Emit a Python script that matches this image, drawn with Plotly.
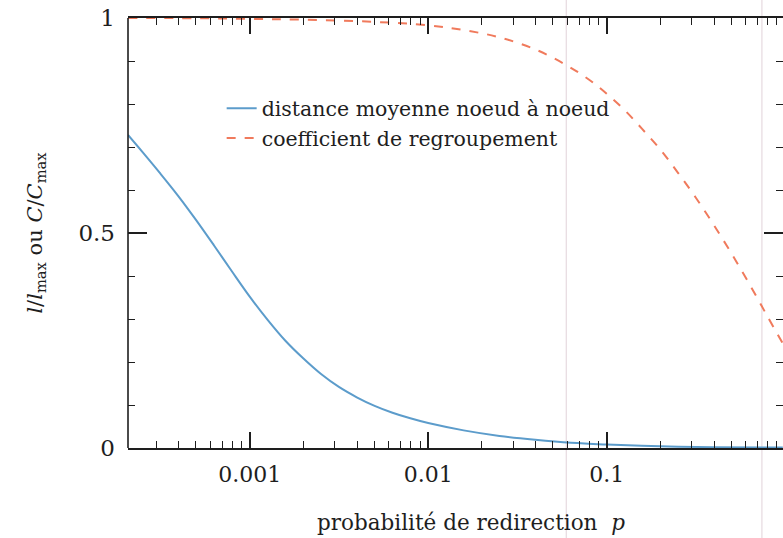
import plotly.graph_objects as go

# Data
p_dist = [0.000208, 0.000251, 0.000316, 0.000398, 0.000501, 0.000631, 0.000794, 0.001,
          0.00126, 0.00158, 0.002, 0.00251, 0.00316, 0.00398, 0.00501, 0.00631,
          0.00794, 0.01, 0.0158, 0.0251, 0.0398, 0.0631, 0.1, 0.2, 0.398, 0.97]
l_dist = [0.728, 0.688, 0.638, 0.586, 0.530, 0.471, 0.411, 0.352,
          0.298, 0.250, 0.208, 0.172, 0.142, 0.118, 0.098, 0.082,
          0.069, 0.058, 0.041, 0.028, 0.019, 0.012, 0.008, 0.004, 0.002, 0.001]

p_clust = [0.000208, 0.0005, 0.001, 0.002, 0.005, 0.01, 0.0158, 0.0251, 0.0398,
           0.0591, 0.0794, 0.1, 0.126, 0.158, 0.2, 0.251, 0.316, 0.398, 0.501,
           0.631, 0.794, 0.973]
c_clust = [1.0, 0.9995, 0.998, 0.996, 0.991, 0.983, 0.972, 0.955, 0.927,
           0.891, 0.857, 0.824, 0.786, 0.742, 0.694, 0.640, 0.582, 0.519, 0.452,
           0.381, 0.307, 0.242]

x_tickvals = [0.001, 0.01, 0.1]
x_ticktext = ["0.001", "0.01", "0.1"]
y_tickvals = [0, 0.5, 1]
y_ticktext = ["0", "0.5", "1"]

series_names = ["distance moyenne noeud à noeud", "coefficient de regroupement"]
x_title = "probabilité de redirection  <i>p</i>"
y_title = "<i>l</i>/<i>l</i><sub>max</sub> ou <i>C</i>/<i>C</i><sub>max</sub>"

FONT = "DejaVu Serif"
INK = "#1e1e1e"

fig = go.Figure()
fig.add_trace(go.Scatter(x=p_dist, y=l_dist, mode="lines", name=series_names[0],
                         line=dict(color="#5c9ccb", width=2, shape="spline", smoothing=1.0)))
fig.add_trace(go.Scatter(x=p_clust, y=c_clust, mode="lines", name=series_names[1],
                         line=dict(color="#f07a5c", width=2, dash="dash", shape="spline",
                                   smoothing=1.0)))

fig.update_layout(
    width=783, height=538,
    margin=dict(l=128, r=0, t=18, b=90, autoexpand=False),
    paper_bgcolor="white", plot_bgcolor="white",
    font=dict(family=FONT, size=21, color=INK),
    showlegend=True,
    legend=dict(x=0.143, y=0.836, xanchor="left", yanchor="top",
                bgcolor="rgba(0,0,0,0)", font=dict(size=20.5, family=FONT, color=INK),
                tracegroupgap=0),
    xaxis=dict(
        type="log", range=[-3.682, -0.012], automargin=False,
        tickmode="array", tickvals=x_tickvals, ticktext=x_ticktext,
        ticks="inside", ticklen=16, tickwidth=1.5, tickcolor=INK,
        ticklabelstandoff=6,
        showline=True, linewidth=1.6, linecolor=INK, mirror="ticks",
        showgrid=False, zeroline=False,
        minor=dict(dtick="D1", ticks="inside", ticklen=7, tickwidth=1.3,
                   tickcolor=INK, showgrid=False),
        tickfont=dict(size=22, family=FONT, color=INK),
    ),
    yaxis=dict(
        range=[0, 1], automargin=False,
        tickmode="array", tickvals=y_tickvals, ticktext=y_ticktext,
        ticks="inside", ticklen=19, tickwidth=1.5, tickcolor=INK,
        ticklabelstandoff=12, ticklabeloverflow="allow",
        showline=False, mirror="ticks",
        showgrid=False, zeroline=False,
        minor=dict(dtick=0.1, ticks="inside", ticklen=7, tickwidth=1.3,
                   tickcolor=INK, showgrid=False),
        title=dict(text=y_title, standoff=30, font=dict(size=21, family=FONT, color=INK)),
        tickfont=dict(size=23, family=FONT, color=INK),
    ),
)

# x-axis title, sitting a little right of centre as in the reference
fig.add_annotation(text=x_title, xref="paper", yref="paper", x=0.524, y=-0.174,
                   xanchor="center", yanchor="middle", showarrow=False,
                   font=dict(size=21.5, family=FONT, color=INK))

# left frame line (the right side of the frame lies outside the picture)
fig.add_shape(type="line", xref="paper", yref="paper", x0=0, x1=0, y0=0, y1=1,
              line=dict(color=INK, width=1.6), layer="above")

# faint vertical scan streaks seen in the reference
for xv in [0.0594, 0.741]:
    fig.add_shape(type="line", xref="x", yref="paper", x0=xv, x1=xv, y0=-0.25, y1=1.05,
                  line=dict(color="rgba(200,170,185,0.45)", width=1.2), layer="below")

# place the figure flush with the window corner, no mode bar
fig.write_html("out.html", config={"displayModeBar": False},
               post_script="document.body.style.margin='0';document.body.style.padding='0';")
